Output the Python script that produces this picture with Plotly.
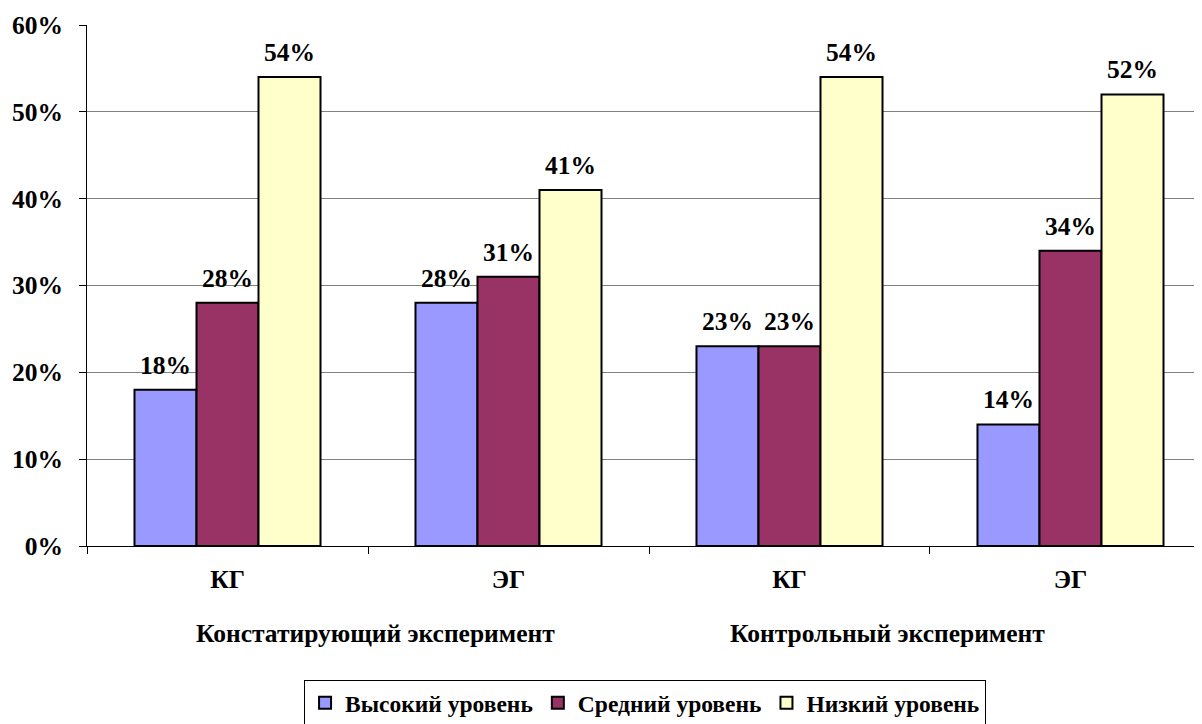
import plotly.graph_objects as go

groups = ["Констатирующий эксперимент", "Контрольный эксперимент"]
categories = ["КГ", "ЭГ", "КГ", "ЭГ"]
series_names = ["Высокий уровень", "Средний уровень", "Низкий уровень"]
high = [0.18, 0.28, 0.23, 0.14]
mid = [0.28, 0.31, 0.23, 0.34]
low = [0.54, 0.41, 0.54, 0.52]
colors = ["#9999FF", "#993366", "#FFFFCC"]

FONT = "Times New Roman, Liberation Serif, DejaVu Serif, serif"
x = list(range(len(categories)))
series = [high, mid, low]

fig = go.Figure()
for name, vals, col in zip(series_names, series, colors):
    fig.add_trace(go.Bar(
        x=x, y=vals, name=name,
        marker=dict(color=col, line=dict(color="black", width=2)),
    ))

bargap = 0.338
bw = (1 - bargap) / 3
annotations = []
for j, vals in enumerate(series):
    for i, v in enumerate(vals):
        annotations.append(dict(
            x=i + (j - 1) * bw, y=v, xref="x", yref="y",
            text=f"{round(v*100)}%", showarrow=False,
            yanchor="bottom", yshift=8,
            font=dict(family=FONT, size=25.5, color="black", weight="bold"),
        ))
for gx, g in zip([0.525, 2.35], groups):
    annotations.append(dict(
        x=gx, y=-0.167, xref="x", yref="paper", text=g, showarrow=False,
        yanchor="middle", xanchor="center",
        font=dict(family=FONT, size=25.5, color="black", weight="bold"),
    ))

fig.update_layout(
    width=1194, height=716,
    margin=dict(l=79, r=0, t=17, b=178, autoexpand=False),
    paper_bgcolor="white", plot_bgcolor="white",
    barmode="group", bargap=bargap, bargroupgap=0,
    showlegend=True,
    legend=dict(
        orientation="h", x=0.5005, xanchor="center", y=-0.257, yanchor="top",
        bordercolor="black", borderwidth=1,
        font=dict(family=FONT, size=23.5, color="black", weight="bold"),
        traceorder="normal",
    ),
    annotations=annotations,
    xaxis=dict(
        range=[-0.5, 3.468], automargin=False,
        tickmode="array", tickvals=x, ticktext=categories,
        ticks="", showgrid=False,
        showline=True, linecolor="black", linewidth=1,
        ticklabelstandoff=10,
        tickfont=dict(family=FONT, size=25.5, color="black", weight="bold"),
        minor=dict(tickmode="array", tickvals=[-0.5, 0.5, 1.5, 2.5, 3.5],
                   ticks="outside", ticklen=7, tickcolor="black", tickwidth=1,
                   showgrid=False),
        zeroline=False,
    ),
    yaxis=dict(
        range=[0, 0.6], dtick=0.1, tickformat=".0%", automargin=False,
        showgrid=True, gridcolor="#808080", gridwidth=1,
        showline=True, linecolor="black", linewidth=1,
        ticks="outside", ticklen=7, tickcolor="black",
        ticklabelstandoff=11,
        tickfont=dict(family=FONT, size=25.5, color="black", weight="bold"),
        zeroline=False,
    ),
)

fig.write_html("out.html")
